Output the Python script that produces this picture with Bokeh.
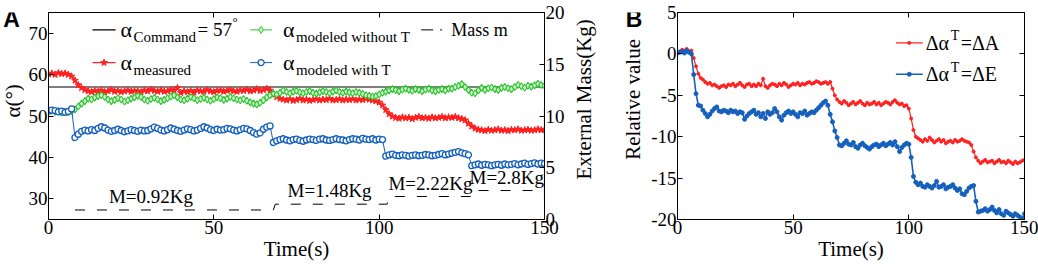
import math
from bokeh.plotting import figure
from bokeh.models import Range1d, LinearAxis, FixedTicker, Label
from bokeh.layouts import row
from bokeh.embed import file_html
from bokeh.resources import INLINE

# ---------------- data ----------------
time_s = list(range(151))

alpha_command = 57.0

alpha_measured = [
    60.1, 60.3, 60.0, 60.4, 60.2, 60.3, 60.0,
    59.6, 58.6, 57.5, 56.8, 56.3,
    56.0, 55.8, 56.1, 55.9, 56.2, 55.8, 56.0, 56.3, 55.9, 56.1,
    55.8, 56.0, 56.2, 55.9, 56.1, 56.0, 55.8, 56.2, 56.0, 56.4,
    56.1, 55.9, 56.2, 55.9, 56.0, 56.3, 56.1, 56.8, 55.6, 56.0,
    55.8, 56.1, 55.7, 56.2, 56.0, 55.9, 56.3, 56.0, 55.8, 56.1,
    56.2, 55.9, 56.1, 56.3, 56.0, 55.9, 56.2, 56.1, 56.4, 56.0,
    56.2, 56.5, 56.1, 56.3, 56.6, 56.2,
    55.2, 54.6, 54.2,
    54.0, 53.8, 54.1, 53.7, 53.9, 54.2, 53.8, 54.0, 53.7, 53.9,
    54.1, 53.8, 54.0, 53.9, 54.2, 53.8, 53.9, 54.1, 53.8, 54.0,
    53.9, 54.1, 53.8, 54.0, 53.9, 54.2, 54.0, 53.8, 53.6, 53.3,
    52.6, 51.5, 50.5, 49.9,
    49.6, 49.4, 49.7, 49.5, 49.6, 49.3, 49.6, 49.8, 49.5, 49.6,
    49.4, 49.7, 49.5, 49.6, 49.8, 49.5, 49.7, 49.6, 49.8, 49.5, 49.3, 49.0,
    48.2, 47.5, 47.0, 46.7,
    46.6, 46.4, 46.7, 46.5, 46.6, 46.8, 46.5, 46.6, 46.4, 46.7,
    46.6, 46.8, 46.5, 46.6, 46.7, 46.5, 46.6, 46.8, 46.6, 46.7,
]

alpha_without_T = [
    51.1, 51.3, 51.0, 51.2, 50.8, 51.0, 50.9, 51.2, 51.6,
    52.3, 53.0, 53.6, 54.2,
    54.0, 54.5, 54.8, 55.0, 54.6, 54.0, 53.6, 53.9, 54.3, 54.0,
    53.5, 53.8, 54.2, 54.5, 54.9, 54.6, 54.0, 53.7, 54.1, 54.4,
    54.0, 53.6, 53.9, 54.3, 54.7, 55.0, 54.5, 54.0, 53.8, 54.2,
    54.6, 54.3, 53.8, 54.1, 54.4, 54.0, 53.7, 54.1, 54.5, 54.3,
    53.9, 54.2, 54.6, 54.3, 54.0, 53.8, 54.1, 53.7, 53.3, 53.0, 52.8, 53.2,
    53.8, 54.5, 55.0, 55.4, 55.2, 55.6,
    56.2, 55.8, 55.5, 55.9, 56.1, 55.7, 55.5, 55.8, 56.0, 55.6,
    55.4, 55.7, 56.0, 55.8, 55.5, 55.9, 56.2, 55.8, 55.6, 55.9,
    55.7, 55.5, 55.8, 55.6, 55.3, 55.0, 54.9,
    54.7, 54.8, 55.2, 55.6,
    55.9, 56.2, 56.5, 56.3, 56.0, 56.4, 56.6, 56.3, 56.1, 56.5,
    56.3, 56.0, 56.4, 56.6, 56.2, 56.0, 56.3, 56.5, 56.2, 56.6,
    56.6, 57.0, 57.3, 57.7, 57.0, 56.3, 55.6, 55.5, 56.2, 56.8,
    56.3, 56.7, 56.9, 56.5, 56.3, 56.8, 57.0, 56.7, 56.5, 57.0,
    57.5, 57.2, 56.9, 57.3, 57.1, 57.4, 57.8, 57.5, 57.3,
]

alpha_with_T = [
    51.2, 51.4, 51.3, 51.0, 51.2, 50.9, 51.1, 51.7,
    44.8, 45.6, 46.3,
    46.6, 46.4, 46.7, 46.5, 47.0, 47.4, 47.1, 46.6, 46.3, 46.5,
    46.8, 46.5, 46.2, 46.4, 46.7, 46.5, 46.3, 46.6, 46.4, 46.5,
    46.9, 47.3, 47.0, 46.6, 46.4, 46.7, 47.1, 46.8, 46.5, 46.3,
    46.6, 46.9, 46.7, 46.4, 46.6, 47.0, 47.4, 47.1, 46.7, 46.5,
    46.8, 46.6, 46.7, 47.0, 46.9, 46.6, 46.4, 46.7, 47.0, 46.9,
    46.5, 46.0, 45.6, 45.9,
    46.8, 47.3, 47.6, 43.6,
    44.0, 44.3, 44.5, 44.2, 44.0, 44.3, 44.4, 44.1, 43.9, 44.2,
    44.4, 44.3, 44.1, 44.4, 44.5, 44.2, 44.1, 44.3, 44.5, 44.3,
    44.2, 44.0, 44.3, 44.5, 44.4, 44.2, 44.6, 44.4, 44.3, 44.5,
    44.2, 44.4, 44.3,
    40.3,
    40.6, 40.8, 40.5, 40.4, 40.6, 40.5, 40.3, 40.5, 40.6, 40.4,
    40.5, 40.7, 40.6, 40.4, 40.5, 40.7, 40.9, 40.6, 40.8, 41.0,
    41.2, 41.4, 41.1, 40.9, 40.6,
    38.0,
    38.2, 38.4, 38.1, 38.3, 38.2, 38.0, 38.2, 38.3, 38.1, 38.4,
    38.2, 38.3, 38.5, 38.2, 38.4, 38.6, 38.3, 38.5, 38.7, 38.4, 38.6, 38.5,
]
with_T_tail_t = [150, 150, 150]
with_T_tail = [38.5, 52.0, 30.0]

mass_t = [8, 68, 68.6, 102.4, 103.0, 127.6, 128.2, 150]
mass_kg = [0.92, 0.92, 1.48, 1.48, 2.22, 2.22, 2.8, 2.8]
mass_label_t = [31, 85, 115.5, 138.6]
mass_label_kg = [0.92, 1.48, 2.22, 2.8]
mass_labels = ["M=0.92Kg", "M=1.48Kg", "M=2.22Kg", "M=2.8Kg"]

delta_A = [
    0.2, 0.3, 0.5, 0.4, 0.6, 0.3, 0.4,
    -0.5, -1.5, -2.4, -2.9, -3.1, -3.4,
    -3.6, -3.5, -3.8, -3.7, -3.9, -4.1, -3.9, -3.8, -4.0, -3.7,
    -3.8, -3.6, -3.9, -3.7, -3.5, -3.8, -4.0, -3.7, -3.6, -3.9,
    -3.7, -3.9, -3.6, -3.8, -3.0, -3.9, -4.1, -3.8, -3.6, -3.7,
    -3.9, -3.6, -3.8, -3.5, -3.7, -4.0, -3.8, -3.6, -3.7, -3.5,
    -3.8, -3.6, -3.7, -3.5, -3.4, -3.6, -3.5, -3.3, -3.4, -3.6,
    -3.5, -3.4, -3.6, -3.4,
    -4.2, -5.0, -5.5, -5.8,
    -6.0, -5.7, -5.9, -6.2, -6.0, -5.8, -6.1, -5.9, -5.7, -6.0,
    -6.2, -5.9, -6.1, -6.0, -5.8, -6.1, -5.9, -6.2, -6.0, -5.8,
    -5.9, -6.1, -5.8, -5.6, -5.9, -6.1, -6.0, -6.3, -6.2, -6.6,
    -7.8, -9.2, -10.0, -10.2,
    -10.4, -10.6, -10.3, -10.5, -10.1, -10.4, -10.7, -10.5, -10.3, -10.6,
    -10.4, -10.8, -10.6, -10.5, -10.7, -10.4, -10.6, -10.5, -10.3, -10.5,
    -10.6, -10.7, -11.0,
    -11.8, -12.5, -12.9, -13.2,
    -13.0, -12.8, -13.1, -13.0, -12.9, -13.2, -13.0, -12.8, -13.1, -13.0,
    -13.2, -12.9, -13.1, -13.3, -13.0, -13.2, -13.1, -12.9, -12.8,
]

delta_E = [
    0.1, 0.2, 0.3, 0.1, 0.4, 0.2,
    0.0, -2.5, -4.8, -6.2, -6.3,
    -6.8, -7.2, -7.6, -7.3, -6.9, -6.6, -6.4, -6.9, -7.0, -6.8,
    -6.9, -7.1, -6.8, -7.0, -6.9, -7.2, -7.0, -7.1, -7.9, -7.5,
    -7.2, -7.0, -6.8, -7.3, -7.1, -7.6, -7.2, -7.8, -7.0, -7.3,
    -7.1, -6.6, -7.0, -7.6, -8.0, -7.4, -7.1, -6.9, -7.2, -7.0,
    -7.3, -7.6, -7.1, -7.2, -6.9, -7.4, -7.2, -7.0, -7.1, -6.8,
    -6.5, -6.2, -5.9,
    -5.7, -6.2, -7.3, -8.2, -9.3, -10.1, -11.0,
    -11.1, -10.8, -10.5, -10.9, -11.0, -10.7, -11.2, -11.4, -11.0, -10.8,
    -11.1, -11.3, -11.5, -11.2, -11.0, -10.9, -11.2, -11.0, -10.8, -11.1,
    -10.9, -10.7, -11.0, -10.6, -11.2, -11.8, -11.3, -11.0, -10.8,
    -10.9, -12.5, -14.8, -15.5,
    -15.8, -15.6, -16.0, -16.1, -15.8, -16.0, -16.2, -15.9, -15.4, -16.1,
    -16.0, -15.8, -16.3, -16.1, -16.0, -15.8, -16.2, -16.5, -16.3, -16.9,
    -17.0, -16.6,
    -16.2, -16.0, -15.9, -17.8, -19.1,
    -19.0, -18.9, -18.7, -19.0, -18.8, -18.5, -18.9, -19.2, -18.8, -19.3,
    -19.5, -19.0, -19.2, -19.4, -19.6, -19.3, -19.5, -19.7, -19.9, -19.3,
]

a_x_ticks = [0, 50, 100, 150]
a_y_ticks = [30, 40, 50, 60, 70]
a_mass_ticks = [0, 5, 10, 15, 20]
b_y_ticks = [-20, -15, -10, -5, 0, 5]

# ---------------- style ----------------
SERIF = "Liberation Serif"
SANS = "Liberation Sans"
RED = "#FF2020"
GREEN = "#2EC42E"
BLUE = "#1560BD"
H = 274
TOP = 12
BOTTOM = 55


def style_axis(ax):
    ax.major_tick_in = 5
    ax.major_tick_out = 0
    ax.minor_tick_line_color = None
    ax.axis_line_color = "black"
    ax.major_tick_line_color = "black"
    ax.major_label_text_font = SERIF
    ax.major_label_text_font_size = "19px"
    ax.major_label_text_color = "black"
    ax.major_label_standoff = 1
    ax.axis_label_text_font = SERIF
    ax.axis_label_text_font_size = "21px"
    ax.axis_label_text_font_style = "normal"
    ax.axis_label_text_color = "black"
    ax.axis_label_standoff = 0


def tick_only_axis(ticks, **kw):
    # axis that only draws inward tick marks (no labels) on the opposite side of the box
    ax = LinearAxis(ticker=FixedTicker(ticks=[], minor_ticks=ticks), **kw)
    ax.axis_line_color = "black"
    ax.major_tick_line_color = None
    ax.minor_tick_line_color = "black"
    ax.minor_tick_in = 5
    ax.minor_tick_out = 0
    ax.major_label_standoff = 0
    return ax


def lab(p, x, y, text, size, dx=0, dy=0, align="left", font=SERIF, style="normal",
        baseline="middle", y_range_name="default", angle=0.0):
    p.add_layout(Label(x=x, y=y, text=text, x_offset=dx, y_offset=dy, angle=angle,
                       text_font=font, text_font_size=size, text_font_style=style,
                       text_align=align, text_baseline=baseline, text_color="black",
                       y_range_name=y_range_name))


def text_strip(width):
    # a bare figure whose frame is the whole strip, used to hold the outer texts
    s = figure(width=width, height=H, x_range=Range1d(0, width), y_range=Range1d(H, 0),
               x_axis_type=None, y_axis_type=None, output_backend="svg", toolbar_location=None,
               min_border_left=0, min_border_right=0, min_border_top=0, min_border_bottom=0)
    s.outline_line_color = None
    s.xgrid.visible = False
    s.ygrid.visible = False
    return s


# ---------------- left strip: panel letter A and y label ----------------
s1 = text_strip(24)
lab(s1, 11, 9, "A", "23px", font=SANS, style="bold", align="center")
lab(s1, 12.5, 117, "α(°)", "21px", align="center", angle=math.pi / 2)

# ---------------- panel A ----------------
pa = figure(width=543, height=H, x_range=Range1d(0, 150), y_range=Range1d(25, 75),
            output_backend="svg", toolbar_location=None,
            min_border_left=24, min_border_right=21, min_border_top=TOP, min_border_bottom=BOTTOM)
pa.extra_y_ranges = {"mass": Range1d(0, 20)}
pa.xgrid.visible = False
pa.ygrid.visible = False
pa.outline_line_color = "black"

pa.xaxis.ticker = FixedTicker(ticks=a_x_ticks)
pa.yaxis.ticker = FixedTicker(ticks=a_y_ticks)
pa.xaxis.axis_label = "Time(s)"
style_axis(pa.xaxis[0])
style_axis(pa.yaxis[0])

pa.add_layout(tick_only_axis(a_x_ticks), "above")

ax_mass = LinearAxis(y_range_name="mass", ticker=FixedTicker(ticks=a_mass_ticks))
style_axis(ax_mass)
pa.add_layout(ax_mass, "right")

# data
pa.line([time_s[0], time_s[-1]], [alpha_command, alpha_command], line_color="black", line_width=1.2)
pa.line(mass_t, mass_kg, y_range_name="mass", line_color="black", line_width=1, line_dash="10 12")
pa.line(time_s, alpha_measured, line_color=RED, line_width=1.2)
pa.scatter(time_s, alpha_measured, marker="star", size=7, line_color=RED, fill_color=RED)
pa.line(time_s, alpha_without_T, line_color=GREEN, line_width=1)
pa.scatter(time_s, alpha_without_T, marker="diamond", size=7, line_color=GREEN,
           fill_color="#CFF2CF", line_width=1.1)
pa.line(time_s, alpha_with_T, line_color=BLUE, line_width=1)
pa.line(with_T_tail_t, with_T_tail, line_color=BLUE, line_width=1.2)
pa.scatter(time_s, alpha_with_T, marker="circle", size=6, line_color=BLUE,
           fill_color="white", line_width=1.3)

# mass step labels
for t, m, txt in zip(mass_label_t, mass_label_kg, mass_labels):
    lab(pa, t, m, txt, "19px", dy=3, align="center", baseline="bottom", y_range_name="mass")

# legend (manual, to get sub/superscripts)
row_y = [70.8, 62.9]
s0, s1x = 13.3, 20.3
c0, c1 = 61.0, 67.6
m0, m1 = 112.7, 120.3
pa.line([s0, s1x], [row_y[0]] * 2, line_color="black", line_width=1.2)
lab(pa, 21.8, row_y[0], "α", "22px")
lab(pa, 21.8, row_y[0], "Command", "15px", dx=13, dy=-7)
lab(pa, 21.8, row_y[0], "= 57", "19px", dx=77)
lab(pa, 21.8, row_y[0], "°", "13px", dx=112, dy=8)

pa.line([s0, s1x], [row_y[1]] * 2, line_color=RED, line_width=1.2)
pa.scatter([(s0 + s1x) / 2], [row_y[1]], marker="star", size=7, line_color=RED, fill_color=RED)
lab(pa, 21.8, row_y[1], "α", "22px")
lab(pa, 21.8, row_y[1], "measured", "15px", dx=13, dy=-7)

pa.line([c0, c1], [row_y[0]] * 2, line_color=GREEN, line_width=1)
pa.scatter([(c0 + c1) / 2], [row_y[0]], marker="diamond", size=7, line_color=GREEN, fill_color="#CFF2CF")
lab(pa, 70.9, row_y[0], "α", "22px")
lab(pa, 70.9, row_y[0], "modeled without T", "15px", dx=13, dy=-7)

pa.line([c0, c1], [row_y[1]] * 2, line_color=BLUE, line_width=1)
pa.scatter([(c0 + c1) / 2], [row_y[1]], marker="circle", size=6, line_color=BLUE,
           fill_color="white", line_width=1.3)
lab(pa, 70.9, row_y[1], "α", "22px")
lab(pa, 70.9, row_y[1], "modeled with T", "15px", dx=13, dy=-7)

pa.line([m0, m1], [row_y[0]] * 2, line_color="black", line_width=1, line_dash="12 7 2 7")
lab(pa, 121.8, row_y[0], "Mass m", "18px")

# ---------------- middle strip: right label of A, letter B, y label of B ----------------
s2 = text_strip(81)
lab(s2, 16, 115, "External Mass(Kg)", "21px", align="center", angle=math.pi / 2)
lab(s2, 66.5, 8.5, "B", "23px", font=SANS, style="bold", align="center")
lab(s2, 65, 115, "Relative value", "21px", align="center", angle=math.pi / 2)

# ---------------- panel B ----------------
pb = figure(width=390, height=H, x_range=Range1d(0, 150), y_range=Range1d(-20, 5),
            output_backend="svg", toolbar_location=None,
            min_border_left=28, min_border_right=14, min_border_top=TOP, min_border_bottom=BOTTOM)
pb.xgrid.visible = False
pb.ygrid.visible = False
pb.outline_line_color = "black"

pb.xaxis.ticker = FixedTicker(ticks=a_x_ticks)
pb.yaxis.ticker = FixedTicker(ticks=b_y_ticks)
pb.yaxis.major_label_overrides = {v: str(v) for v in b_y_ticks}
pb.xaxis.axis_label = "Time(s)"
style_axis(pb.xaxis[0])
style_axis(pb.yaxis[0])

pb.add_layout(tick_only_axis(a_x_ticks), "above")
pb.add_layout(tick_only_axis(b_y_ticks), "right")

pb.line(time_s, delta_A, line_color=RED, line_width=1.2)
pb.scatter(time_s, delta_A, marker="circle", size=3, line_color=RED, fill_color=RED)
pb.line(time_s, delta_E, line_color=BLUE, line_width=1.6)
pb.scatter(time_s, delta_E, marker="circle", size=4, line_color=BLUE, fill_color=BLUE)

b_rows = [1.33, -2.46]
b0, b1 = 94.4, 106.0
for yv, col, tail, msz in [(b_rows[0], RED, "=ΔA", 3), (b_rows[1], BLUE, "=ΔE", 4)]:
    pb.line([b0, b1], [yv, yv], line_color=col, line_width=1.4)
    pb.scatter([(b0 + b1) / 2], [yv], marker="circle", size=msz, line_color=col, fill_color=col)
    lab(pb, 107.3, yv, "Δα", "20px")
    lab(pb, 107.3, yv, "T", "14px", dx=25, dy=7)
    lab(pb, 107.3, yv, tail, "20px", dx=35)

layout = row(s1, pa, s2, pb)
open("out.html", "w").write(file_html(layout, INLINE))
